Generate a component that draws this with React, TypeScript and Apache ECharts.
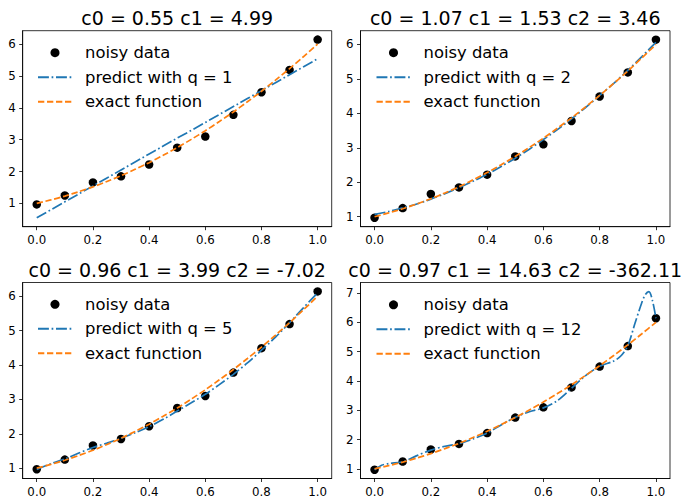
import React, { useEffect, useRef } from "react";
import * as echarts from "echarts";

const FONT = "'DejaVu Sans', sans-serif";

// sample positions
const xData = [0, 0.1, 0.2, 0.3, 0.4, 0.5, 0.6, 0.7, 0.8, 0.9, 1.0];
const xFine = [0, 0.05, 0.1, 0.15, 0.2, 0.25, 0.3, 0.35, 0.4, 0.45, 0.5, 0.55, 0.6, 0.65, 0.7, 0.75, 0.8, 0.85, 0.9, 0.95, 1.0];
const xQ12 = [0, 0.025, 0.05, 0.1, 0.15, 0.2, 0.25, 0.3, 0.35, 0.4, 0.45, 0.5, 0.55, 0.6, 0.65, 0.7, 0.75, 0.8, 0.85, 0.875, 0.9, 0.925, 0.95, 0.9625, 0.975, 0.9875, 1.0];

// values
const noisy = [0.97, 1.25, 1.66, 1.85, 2.22, 2.75, 3.10, 3.78, 4.49, 5.19, 6.14];
const exact = [1.00, 1.11, 1.23, 1.37, 1.52, 1.69, 1.87, 2.07, 2.28, 2.51, 2.75, 3.01, 3.28, 3.57, 3.87, 4.19, 4.52, 4.87, 5.23, 5.61, 6.00];
const pred1 = [0.55, 0.80, 1.05, 1.30, 1.55, 1.80, 2.05, 2.30, 2.55, 2.80, 3.05, 3.29, 3.54, 3.79, 4.04, 4.29, 4.54, 4.79, 5.04, 5.29, 5.54];
const pred2 = [1.07, 1.15, 1.26, 1.37, 1.51, 1.67, 1.84, 2.03, 2.23, 2.46, 2.70, 2.96, 3.24, 3.53, 3.84, 4.17, 4.52, 4.87, 5.25, 5.65, 6.06];
const pred5 = [0.96, 1.13, 1.27, 1.44, 1.60, 1.73, 1.87, 2.03, 2.21, 2.42, 2.66, 2.90, 3.15, 3.43, 3.73, 4.06, 4.43, 4.81, 5.23, 5.67, 6.10];
const pred12 = [0.97, 1.12, 1.18, 1.24, 1.45, 1.64, 1.77, 1.86, 2.02, 2.22, 2.50, 2.76, 2.95, 3.08, 3.33, 3.75, 4.18, 4.50, 4.68, 4.85, 5.20, 5.95, 6.68, 6.95, 7.05, 6.75, 6.14];

const titles = [
  "c0 = 0.55 c1 = 4.99",
  "c0 = 1.07 c1 = 1.53 c2 = 3.46",
  "c0 = 0.96 c1 = 3.99 c2 = -7.02",
  "c0 = 0.97 c1 = 14.63 c2 = -362.11",
];
const qValues = [1, 2, 5, 12];
const xTicks = [0, 0.2, 0.4, 0.6, 0.8, 1.0];
const yTicksA = [1, 2, 3, 4, 5, 6];
const yTicksB = [1, 2, 3, 4, 5, 6, 7];
const yRanges = [
  [0.27, 6.42],
  [0.71, 6.40],
  [0.70, 6.40],
  [0.67, 7.36],
];

const BLUE = "#1f77b4";
const ORANGE = "#ff7f0e";

export default function App() {
  const ref = useRef<HTMLDivElement>(null);

  useEffect(() => {
    if (!ref.current) return;
    const chart = echarts.init(ref.current, undefined, { renderer: "svg" });

    const grids = [
      { left: 22.7, top: 30.7, width: 309, height: 196 },
      { left: 360.5, top: 30.7, width: 309.5, height: 196 },
      { left: 22.7, top: 282.5, width: 309, height: 196 },
      { left: 360.5, top: 282.5, width: 309.5, height: 196 },
    ];
    const predXs = [xFine, xFine, xFine, xQ12];
    const preds = [pred1, pred2, pred5, pred12];
    const yTicksList = [yTicksA, yTicksA, yTicksA, yTicksB];
    const legendPos = [
      { left: 37, top: 42.7 },
      { left: 375.5, top: 42.7 },
      { left: 37, top: 294.3 },
      { left: 375.5, top: 294.8 },
    ];
    const titlePos = [
      { x: 177.2, y: 18 },
      { x: 515.2, y: 18 },
      { x: 177.2, y: 269.5 },
      { x: 515.2, y: 269.5 },
    ];

    const xAxes: any[] = [];
    const yAxes: any[] = [];
    const series: any[] = [];
    const legends: any[] = [];

    grids.forEach((g, i) => {
      xAxes.push({
        type: "value",
        gridIndex: i,
        min: -0.05,
        max: 1.05,
        splitLine: { show: false },
        axisLine: { show: true, onZero: false, lineStyle: { color: "#000", width: 0.8 } },
        axisTick: { show: true, customValues: xTicks, length: 3.5, lineStyle: { color: "#000", width: 0.8 } },
        axisLabel: {
          customValues: xTicks,
          formatter: (v: number) => v.toFixed(1),
          fontSize: 11.8,
          color: "#000",
          fontFamily: FONT,
          margin: 7,
        },
      });
      yAxes.push({
        type: "value",
        gridIndex: i,
        min: yRanges[i][0],
        max: yRanges[i][1],
        splitLine: { show: false },
        axisLine: { show: true, onZero: false, lineStyle: { color: "#000", width: 0.8 } },
        axisTick: { show: true, customValues: yTicksList[i], length: 3.5, lineStyle: { color: "#000", width: 0.8 } },
        axisLabel: {
          customValues: yTicksList[i],
          formatter: (v: number) => String(Math.round(v)),
          fontSize: 11.8,
          color: "#000",
          fontFamily: FONT,
          margin: 7,
        },
      });
      const predName = `predict with q = ${qValues[i]}`;
      series.push({
        type: "scatter",
        name: "noisy data",
        xAxisIndex: i,
        yAxisIndex: i,
        symbol: "circle",
        symbolSize: 8.5,
        itemStyle: { color: "#000", opacity: 1 },
        data: xData.map((x, k) => [x, noisy[k]]),
        z: 2,
      });
      series.push({
        type: "line",
        name: predName,
        xAxisIndex: i,
        yAxisIndex: i,
        symbol: "none",
        smooth: i === 0 ? false : 0.3,
        lineStyle: { color: BLUE, width: 1.7, type: [10.9, 2.7, 1.7, 2.7] },
        itemStyle: { color: BLUE },
        data: predXs[i].map((x, k) => [x, preds[i][k]]),
        z: 3,
      });
      series.push({
        type: "line",
        name: "exact function",
        xAxisIndex: i,
        yAxisIndex: i,
        symbol: "none",
        smooth: 0.3,
        lineStyle: { color: ORANGE, width: 1.7, type: [6.3, 2.7] },
        itemStyle: { color: ORANGE },
        data: xFine.map((x, k) => [x, exact[k]]),
        z: 4,
      });
      legends.push({
        ...legendPos[i],
        orient: "vertical",
        itemWidth: 34,
        itemHeight: 9,
        itemGap: 4.5,
        padding: 0,
        selectedMode: false,
        data: [
          { name: "noisy data", itemStyle: { opacity: 1 } },
          { name: predName, itemStyle: { opacity: 0 } },
          { name: "exact function", itemStyle: { opacity: 0 } },
        ],
        textStyle: {
          fontSize: 16.4,
          color: "#000",
          fontFamily: FONT,
          lineHeight: 20,
          padding: [0, 0, 0, 8],
        },
      });
    });

    const graphics = titles.map((t, i) => ({
      type: "text",
      x: titlePos[i].x,
      y: titlePos[i].y,
      style: {
        text: t,
        fontSize: 19,
        fontFamily: FONT,
        fill: "#000",
        align: "center",
        verticalAlign: "middle",
      },
    }));

    chart.setOption({
      animation: false,
      backgroundColor: "#fff",
      grid: grids.map((g) => ({ ...g, show: true, borderColor: "#000", borderWidth: 0.8, backgroundColor: "transparent" })),
      xAxis: xAxes,
      yAxis: yAxes,
      legend: legends,
      series,
      graphic: graphics,
    });

    return () => chart.dispose();
  }, []);

  return (
    <div
      ref={ref}
      style={{ position: "fixed", left: 0, top: 0, width: 683, height: 498 }}
    />
  );
}
